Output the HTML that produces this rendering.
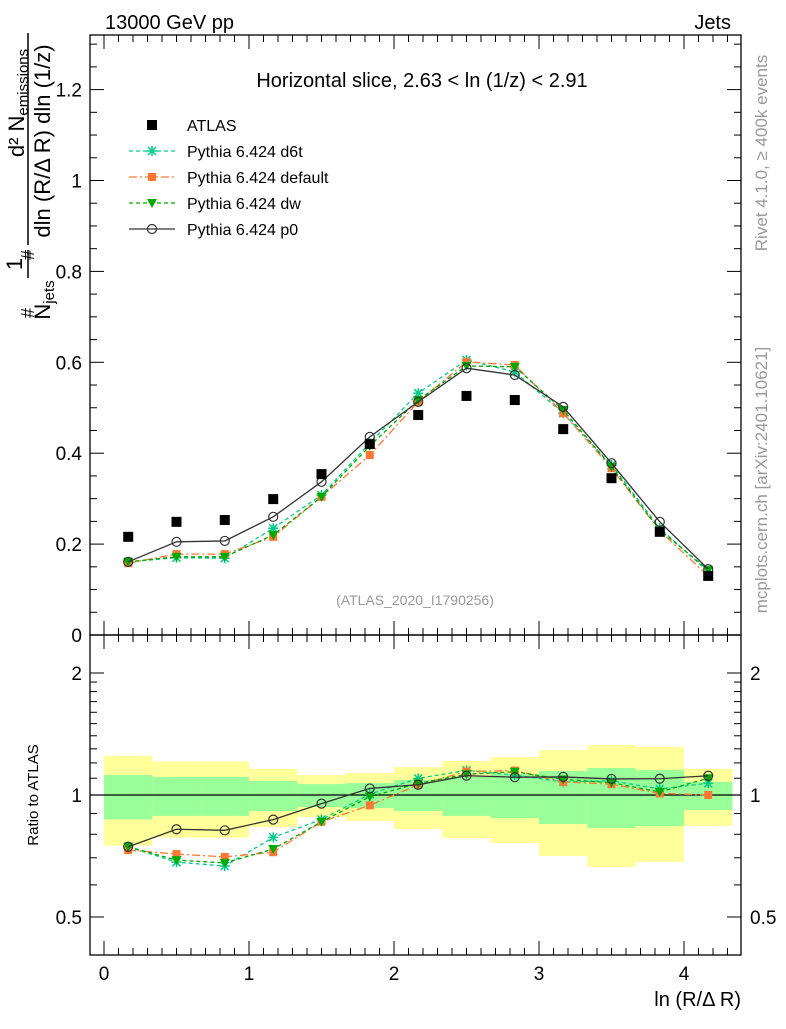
<!DOCTYPE html>
<html><head><meta charset="utf-8"><style>
body{margin:0;background:#fff}
svg text{font-family:"Liberation Sans",sans-serif}
</style></head><body>
<svg id="chart" width="786" height="1024" viewBox="0 0 786 1024" xmlns="http://www.w3.org/2000/svg">
<g id="bands"></g><g id="axes"></g><g id="series"></g>
<text x="105" y="29" font-size="20">13000 GeV pp</text>
<text x="731" y="29" font-size="20" text-anchor="end">Jets</text>
<text x="422" y="87" font-size="20" text-anchor="middle">Horizontal slice, 2.63 &lt; ln (1/z) &lt; 2.91</text>
<text x="415" y="605" font-size="14" fill="#999" text-anchor="middle">(ATLAS_2020_I1790256)</text>
<text transform="translate(767,153) rotate(-90)" font-size="17" fill="#999" text-anchor="middle">Rivet 4.1.0, ≥ 400k events</text>
<text transform="translate(767,480) rotate(-90)" font-size="17" fill="#999" text-anchor="middle">mcplots.cern.ch [arXiv:2401.10621]</text>
<text transform="translate(38,795) rotate(-90)" font-size="15" text-anchor="middle">Ratio to ATLAS</text>
<text x="741" y="1006" font-size="20" text-anchor="end">ln (R/Δ R)</text>
<g font-size="22">
<text transform="translate(24,103) rotate(-90)" text-anchor="middle">d² N<tspan font-size="15" dy="4">emissions</tspan></text>
<line x1="28" y1="33" x2="28" y2="245" stroke="#000" stroke-width="1.5"/>
<text transform="translate(50,141) rotate(-90)" text-anchor="middle">dln (R/Δ R) dln (1/z)</text>
<text transform="translate(34,255) rotate(-90)" font-size="18" text-anchor="middle">#</text>
<text transform="translate(22,264) rotate(-90)" text-anchor="middle">1</text>
<line x1="28" y1="250" x2="28" y2="278" stroke="#000" stroke-width="1.5"/>
<text transform="translate(50,300) rotate(-90)" text-anchor="middle">N<tspan font-size="15" dy="4">jets</tspan></text>
<text transform="translate(34,313) rotate(-90)" font-size="18" text-anchor="middle">#</text>
</g>
<g id="legend"></g>
</svg>
<script>
const xCenters=[0.167,0.5,0.833,1.167,1.5,1.833,2.167,2.5,2.833,3.167,3.5,3.833,4.167];
const atlas=[0.216,0.249,0.253,0.299,0.354,0.420,0.484,0.526,0.517,0.453,0.345,0.227,0.130];
const d6t=[0.161,0.170,0.169,0.235,0.308,0.422,0.532,0.605,0.579,0.488,0.374,0.235,0.139];
const def=[0.158,0.178,0.178,0.216,0.304,0.396,0.513,0.601,0.594,0.488,0.367,0.229,0.130];
const dw=[0.161,0.172,0.172,0.220,0.304,0.416,0.517,0.592,0.590,0.495,0.370,0.231,0.143];
const p0=[0.161,0.205,0.207,0.260,0.337,0.436,0.513,0.587,0.572,0.502,0.378,0.249,0.145];
const yelUp=[1.25,1.21,1.21,1.16,1.12,1.133,1.172,1.213,1.241,1.291,1.328,1.314,1.16];
const yelDn=[0.75,0.785,0.785,0.834,0.882,0.863,0.824,0.783,0.761,0.707,0.664,0.684,0.839];
const grnUp=[1.12,1.108,1.108,1.083,1.064,1.07,1.089,1.108,1.127,1.146,1.166,1.152,1.077];
const grnDn=[0.87,0.888,0.888,0.913,0.934,0.929,0.913,0.888,0.877,0.848,0.829,0.838,0.918];
const mainTicks=[0,0.2,0.4,0.6,0.8,1,1.2];
const mainTickLabels=["0","0.2","0.4","0.6","0.8","1","1.2"];
const ratioTicks=[0.5,1,2];
const xTicks=[0,1,2,3,4];

const NS="http://www.w3.org/2000/svg";
const L=90,R=741,MT=35,MB=635,RT=635,RB=955;
const X=v=>104+v*145;
const Y=v=>635-v*454.5;
const YR=v=>795-122*Math.log2(v);
function mk(p,tag,a){const e=document.createElementNS(NS,tag);for(const k in a)e.setAttribute(k,a[k]);p.appendChild(e);return e;}
const bands=document.getElementById('bands'),axes=document.getElementById('axes'),ser=document.getElementById('series');
const bw=1/3;
xCenters.forEach((c,i)=>{
 const x0=X(c-bw/2),x1=X(c+bw/2);
 const y=mk(bands,'rect',{x:x0,y:YR(yelUp[i]),width:x1-x0,height:YR(yelDn[i])-YR(yelUp[i]),fill:'#ffff99'});
 
 
 const g=mk(bands,'rect',{x:x0,y:YR(grnUp[i]),width:x1-x0,height:YR(grnDn[i])-YR(grnUp[i]),fill:'#99ff99'});
 
 
});
mk(axes,'line',{x1:L,y1:YR(1),x2:R,y2:YR(1),stroke:'#000','stroke-width':1.3});
mk(axes,'rect',{x:L,y:MT,width:R-L,height:MB-MT,fill:'none',stroke:'#000','stroke-width':1.3});
mk(axes,'rect',{x:L,y:RT,width:R-L,height:RB-RT,fill:'none',stroke:'#000','stroke-width':1.3});
for(let k=0;k<=43;k++){const v=k/10,x=X(v);if(x>R)break;const big=k%10==0;const len=big?14:7;
 [[MT,1],[MB,-1],[RT,1],[RB,-1]].forEach(([yy,s])=>mk(axes,'line',{x1:x,y1:yy,x2:x,y2:yy+s*len,stroke:'#000','stroke-width':1}));}
xTicks.forEach(v=>{const t=mk(axes,'text',{x:X(v),y:980,'font-size':19,'text-anchor':'middle'});t.textContent=v;
 
 });
for(let k=0;k<=26;k++){const v=k*0.05,y=Y(v);if(y<MT)break;const big=k%4==0;const len=big?14:7;
 mk(axes,'line',{x1:L,y1:y,x2:L+len,y2:y,stroke:'#000'});mk(axes,'line',{x1:R,y1:y,x2:R-len,y2:y,stroke:'#000'});}
mainTicks.forEach((v,i)=>{const t=mk(axes,'text',{x:82,y:Y(v)+7,'font-size':19,'text-anchor':'end'});t.textContent=mainTickLabels[i];
 
 });
[0.5,0.6,0.7,0.8,0.9,1,1.1,1.2,1.3,1.4,1.5,1.6,1.7,1.8,1.9,2].forEach(v=>{const y=YR(v);const big=ratioTicks.includes(v);const len=big?14:7;
 mk(axes,'line',{x1:L,y1:y,x2:L+len,y2:y,stroke:'#000'});mk(axes,'line',{x1:R,y1:y,x2:R-len,y2:y,stroke:'#000'});});
ratioTicks.forEach(v=>{[[82,'end'],[750,'start']].forEach(([x,a])=>{const t=mk(axes,'text',{x:x,y:YR(v)+7,'font-size':19,'text-anchor':a});t.textContent=v;
 
 });});

function marker(g,type,x,y,c){
 if(type=='sq')return mk(g,'rect',{x:x-5,y:y-5,width:10,height:10,fill:c});
 if(type=='sqs')return mk(g,'rect',{x:x-4,y:y-4,width:8,height:8,fill:c});
 if(type=='tri')return mk(g,'path',{d:`M${x-5},${y-4}L${x+5},${y-4}L${x},${y+5}Z`,fill:c});
 if(type=='circ')return mk(g,'circle',{cx:x,cy:y,r:4.5,fill:'none',stroke:c,'stroke-width':1.2});
 if(type=='star'){return mk(g,'path',{d:`M${x-5},${y}L${x+5},${y}M${x},${y-5}L${x},${y+5}M${x-4},${y-4}L${x+4},${y+4}M${x-4},${y+4}L${x+4},${y-4}`,stroke:c,'stroke-width':1.5});}
}
const defs=[
 {name:'d6t',vals:d6t,c:'#00cc88',dash:'4,3',m:'star',label:'Pythia 6.424 d6t'},
 {name:'default',vals:def,c:'#ff7733',dash:'8,3,2,3',m:'sqs',label:'Pythia 6.424 default'},
 {name:'dw',vals:dw,c:'#00aa00',dash:'4,3',m:'tri',label:'Pythia 6.424 dw'},
 {name:'p0',vals:p0,c:'#333333',dash:'',m:'circ',label:'Pythia 6.424 p0'}];
defs.forEach(s=>{
 const g=mk(ser,'g',{});
 
 
 const pts=s.vals.map((v,i)=>X(xCenters[i])+','+Y(v)).join(' ');
 mk(g,'polyline',{points:pts,fill:'none',stroke:s.c,'stroke-width':1.3,'stroke-dasharray':s.dash});
 s.vals.forEach((v,i)=>{const m=marker(g,s.m,X(xCenters[i]),Y(v),s.c);
  
  });
 const gr=mk(ser,'g',{});
 
 
 const rp=s.vals.map((v,i)=>X(xCenters[i])+','+YR(v/atlas[i])).join(' ');
 mk(gr,'polyline',{points:rp,fill:'none',stroke:s.c,'stroke-width':1.3,'stroke-dasharray':s.dash});
 s.vals.forEach((v,i)=>{const m=marker(gr,s.m,X(xCenters[i]),YR(v/atlas[i]),s.c);
  
  });
});
const ga=mk(ser,'g',{});


atlas.forEach((v,i)=>{const m=marker(ga,'sq',X(xCenters[i]),Y(v),'#000');
 
 });
const lg=document.getElementById('legend');
const ents=[{label:'ATLAS',m:'sq',c:'#000',dash:null}].concat(defs);
ents.forEach((s,i)=>{const y=125+i*26;const g=mk(lg,'g',{});
 
 
 if(s.dash!==null&&s.dash!==undefined)mk(g,'line',{x1:129,y1:y,x2:175,y2:y,stroke:s.c,'stroke-width':1.3,'stroke-dasharray':s.dash});
 marker(g,s.m,152,y,s.c);
 const t=mk(g,'text',{x:187,y:y+6,'font-size':16});t.textContent=s.label;});
</script>
</body></html>
